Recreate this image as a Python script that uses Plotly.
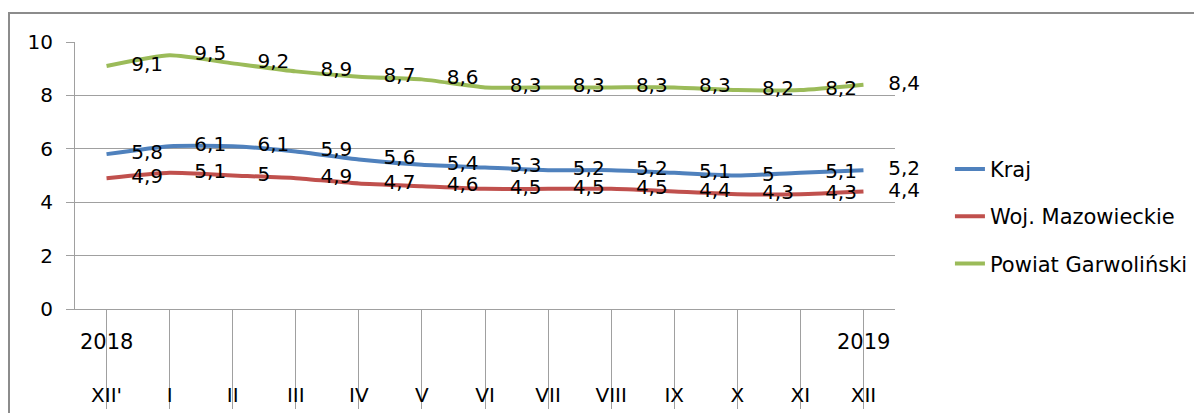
import plotly.graph_objects as go

months = ["XII'", "I", "II", "III", "IV", "V", "VI", "VII", "VIII", "IX", "X", "XI", "XII"]
years = ["2018", "", "", "", "", "", "", "", "", "", "", "", "2019"]
kraj = [5.8, 6.1, 6.1, 5.9, 5.6, 5.4, 5.3, 5.2, 5.2, 5.1, 5.0, 5.1, 5.2]
woj = [4.9, 5.1, 5.0, 4.9, 4.7, 4.6, 4.5, 4.5, 4.5, 4.4, 4.3, 4.3, 4.4]
powiat = [9.1, 9.5, 9.2, 8.9, 8.7, 8.6, 8.3, 8.3, 8.3, 8.3, 8.2, 8.2, 8.4]
names = ["Kraj", "Woj. Mazowieckie", "Powiat Garwoliński"]
colors = ["#4F81BD", "#C0504D", "#9BBB59"]

FONT = "DejaVu Sans"

def fmt(v):
    s = ("%.1f" % v)
    if s.endswith(".0"):
        s = s[:-2]
    return s.replace(".", ",")

idx = list(range(len(months)))
fig = go.Figure()
for i, (nm, vals, col) in enumerate(zip(names, [kraj, woj, powiat], colors)):
    fig.add_trace(go.Scatter(
        x=idx, y=vals, name=nm, legendgroup=nm,
        mode="lines+markers+text",
        line=dict(color=col, width=4, shape="spline", smoothing=0.5),
        marker=dict(size=38, color="rgba(0,0,0,0)"),
        text=[fmt(v) for v in vals],
        textposition="middle right",
        textfont=dict(family=FONT, size=20, color="#000000"),
        cliponaxis=False,
        hoverinfo="skip",
    ))

for i, yr in enumerate(years):
    if yr:
        fig.add_annotation(x=i, y=-0.125, xref="x", yref="paper", text=yr,
                           showarrow=False, yanchor="middle",
                           font=dict(family=FONT, size=21, color="#000000"))

fig.add_shape(type="rect", xref="paper", yref="paper",
              x0=-0.0805, x1=2, y0=-2, y1=1.1086,
              line=dict(color="#8C8C8C", width=2), layer="below")

fig.update_layout(
    width=1202, height=413,
    margin=dict(l=67, r=315, t=34, b=112),
    paper_bgcolor="white", plot_bgcolor="white",
    font=dict(family=FONT, size=20, color="#000000"),
    showlegend=True,
    legend=dict(x=1.067, y=0.6, xanchor="left", yanchor="top",
                traceorder="grouped", tracegroupgap=17,
                font=dict(family=FONT, size=21, color="#000000"),
                bgcolor="rgba(0,0,0,0)"),
    xaxis=dict(
        tickmode="array", tickvals=idx, ticktext=months,
        range=[-0.5, len(months) - 0.5],
        showgrid=False, zeroline=False, automargin=False,
        showline=True, linecolor="#A0A0A0", linewidth=1,
        ticks="outside", ticklen=99, tickcolor="#A0A0A0", tickwidth=1,
        tickson="boundaries",
        ticklabelstandoff=-31,
        tickfont=dict(family=FONT, size=20, color="#000000"),
    ),
    yaxis=dict(
        range=[0, 10], dtick=2, tick0=0,
        showgrid=True, gridcolor="#A0A0A0", gridwidth=1,
        zeroline=False, automargin=False,
        showline=True, linecolor="#A0A0A0", linewidth=1,
        ticks="outside", ticklen=8, tickcolor="#A0A0A0",
        ticklabelstandoff=9,
        tickfont=dict(family=FONT, size=20, color="#000000"),
    ),
)

fig.write_html("out.html")
